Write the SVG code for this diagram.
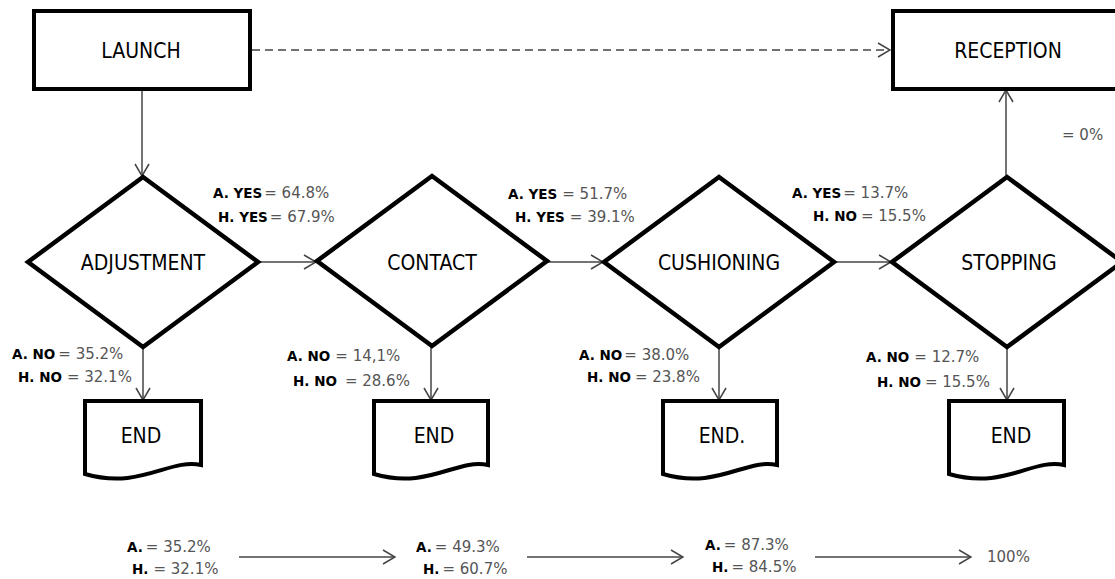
<svg xmlns="http://www.w3.org/2000/svg" width="1115" height="579" viewBox="0 0 1115 579">
<style>
.box{fill:#fff;stroke:#000;stroke-width:4;stroke-linejoin:miter}
.dia{fill:#fff;stroke:#000;stroke-width:4.5;stroke-linejoin:miter}
.nt{font-family:"DejaVu Sans Condensed","DejaVu Sans",sans-serif;font-stretch:condensed;font-size:21px;fill:#000;text-anchor:middle}
.con{fill:none;stroke:#444;stroke-width:1.5}
.dash{stroke-dasharray:8 5}
.lb{font-family:"DejaVu Sans",sans-serif;font-size:15px;fill:#555}
.b{font-weight:bold;font-size:13.5px;fill:#000}
</style>
<defs>
<marker id="ah" viewBox="-1 -8 14 16" refX="12" refY="0" markerWidth="14" markerHeight="16" markerUnits="userSpaceOnUse" orient="auto">
<path d="M0,-7 L12,0 L0,7" fill="none" stroke="#444" stroke-width="1.5"/>
</marker>
</defs>

<g id="connectors">
<line class="con dash" x1="252" y1="50" x2="890" y2="50" marker-end="url(#ah)"/>
<line class="con" x1="142" y1="89" x2="142" y2="176" marker-end="url(#ah)"/>
<line class="con" x1="258" y1="262" x2="316" y2="262" marker-end="url(#ah)"/>
<line class="con" x1="547" y1="262" x2="603" y2="262" marker-end="url(#ah)"/>
<line class="con" x1="834" y1="262" x2="891" y2="262" marker-end="url(#ah)"/>
<line class="con" x1="1006" y1="177" x2="1006" y2="90" marker-end="url(#ah)"/>
<line class="con" x1="143" y1="347" x2="143" y2="400" marker-end="url(#ah)"/>
<line class="con" x1="431" y1="346" x2="431" y2="400" marker-end="url(#ah)"/>
<line class="con" x1="719" y1="347" x2="719" y2="400" marker-end="url(#ah)"/>
<line class="con" x1="1007" y1="347" x2="1007" y2="400" marker-end="url(#ah)"/>
<line class="con" x1="239" y1="557" x2="395" y2="557" marker-end="url(#ah)"/>
<line class="con" x1="527" y1="557" x2="683" y2="557" marker-end="url(#ah)"/>
<line class="con" x1="815" y1="557" x2="971" y2="557" marker-end="url(#ah)"/>
</g>

<g id="launch">
<rect class="box" x="34" y="11" width="216" height="78"/>
<text class="nt" x="141" y="58">LAUNCH</text>
</g>
<g id="reception">
<rect class="box" x="893" y="11" width="240" height="78"/>
<text class="nt" x="1008" y="58">RECEPTION</text>
</g>

<g id="adjustment">
<polygon class="dia" points="143,177 258,262 143,347 28,262"/>
<text class="nt" x="143" y="270">ADJUSTMENT</text>
</g>
<g id="contact">
<polygon class="dia" points="432,176 547,261 432,346 317,261"/>
<text class="nt" x="432" y="270">CONTACT</text>
</g>
<g id="cushioning">
<polygon class="dia" points="719,177 834,262 719,347 604,262"/>
<text class="nt" x="719" y="270">CUSHIONING</text>
</g>
<g id="stopping">
<polygon class="dia" points="1007,177 1122,262 1007,347 892,262"/>
<text class="nt" x="1009" y="270">STOPPING</text>
</g>

<g id="end1">
<path class="box" d="M85,401 H201 V465 C170,458 140,490 85,474 Z"/>
<text class="nt" x="141" y="443">END</text>
</g>
<g id="end2">
<path class="box" d="M374,401 H488 V465 C457,458 428,490 374,474 Z"/>
<text class="nt" x="434" y="443">END</text>
</g>
<g id="end3">
<path class="box" d="M663,401 H777 V465 C746,458 717,490 663,474 Z"/>
<text class="nt" x="722" y="443">END.</text>
</g>
<g id="end4">
<path class="box" d="M949,401 H1064 V465 C1033,458 1004,490 949,474 Z"/>
<text class="nt" x="1011" y="443">END</text>
</g>

<g id="labels">
<text class="lb" x="213" y="198"><tspan class="b">A. YES</tspan><tspan dx="2">= 64.8%</tspan></text>
<text class="lb" x="218" y="222"><tspan class="b">H. YES</tspan><tspan dx="2">= 67.9%</tspan></text>
<text class="lb" x="508" y="199"><tspan class="b">A. YES</tspan><tspan dx="5">= 51.7%</tspan></text>
<text class="lb" x="515" y="222"><tspan class="b">H. YES</tspan><tspan dx="5">= 39.1%</tspan></text>
<text class="lb" x="792" y="198"><tspan class="b">A. YES</tspan><tspan dx="2">= 13.7%</tspan></text>
<text class="lb" x="813" y="221"><tspan class="b">H. NO</tspan><tspan dx="4">= 15.5%</tspan></text>
<text class="lb" x="12" y="359"><tspan class="b">A. NO</tspan><tspan dx="3">= 35.2%</tspan></text>
<text class="lb" x="18" y="382"><tspan class="b">H. NO</tspan><tspan dx="5">= 32.1%</tspan></text>
<text class="lb" x="287" y="361"><tspan class="b">A. NO</tspan><tspan dx="5">= 14,1%</tspan></text>
<text class="lb" x="293" y="386"><tspan class="b">H. NO</tspan><tspan dx="8">= 28.6%</tspan></text>
<text class="lb" x="579" y="360"><tspan class="b">A. NO</tspan><tspan dx="2">= 38.0%</tspan></text>
<text class="lb" x="587" y="382"><tspan class="b">H. NO</tspan><tspan dx="4">= 23.8%</tspan></text>
<text class="lb" x="866" y="362"><tspan class="b">A. NO</tspan><tspan dx="5">= 12.7%</tspan></text>
<text class="lb" x="877" y="387"><tspan class="b">H. NO</tspan><tspan dx="4">= 15.5%</tspan></text>
<text class="lb" x="1062" y="140">= 0%</text>
<text class="lb" x="127" y="552"><tspan class="b">A.</tspan><tspan dx="3">= 35.2%</tspan></text>
<text class="lb" x="132" y="574"><tspan class="b">H.</tspan><tspan dx="5">= 32.1%</tspan></text>
<text class="lb" x="416" y="552"><tspan class="b">A.</tspan><tspan dx="3">= 49.3%</tspan></text>
<text class="lb" x="423" y="574"><tspan class="b">H.</tspan><tspan dx="3">= 60.7%</tspan></text>
<text class="lb" x="705" y="550"><tspan class="b">A.</tspan><tspan dx="3">= 87.3%</tspan></text>
<text class="lb" x="712" y="572"><tspan class="b">H.</tspan><tspan dx="3">= 84.5%</tspan></text>
<text class="lb" x="987" y="562">100%</text>
</g>
</svg>
